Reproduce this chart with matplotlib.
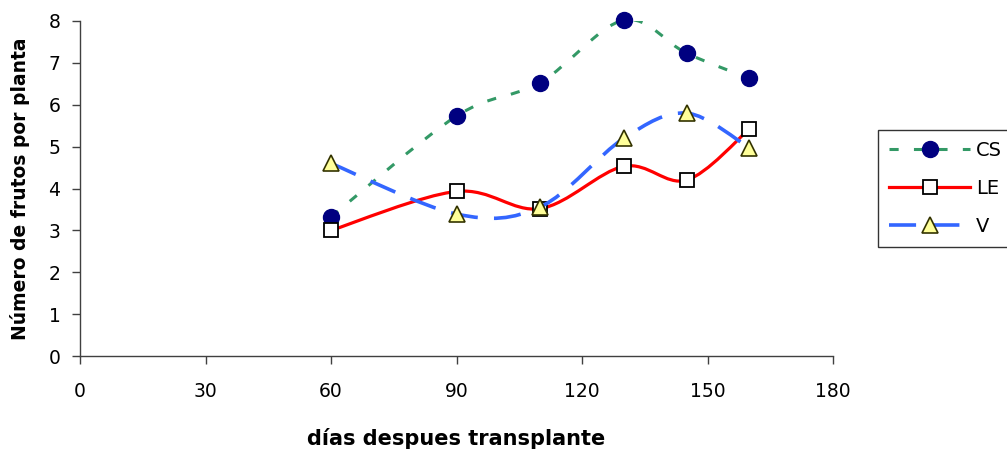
import numpy as np
import matplotlib
matplotlib.use("Agg")
import matplotlib.pyplot as plt
from matplotlib.path import Path
from matplotlib.patches import PathPatch
from matplotlib.lines import Line2D

# ---- data ----
dias = [60, 90, 110, 130, 145, 160]
cs = [3.32, 5.73, 6.53, 8.02, 7.23, 6.63]
le = [3.0, 3.93, 3.52, 4.53, 4.2, 5.42]
v = [4.6, 3.39, 3.56, 5.2, 5.8, 4.97]
series_names = ["CS", "LE", "V"]
x_ticks = [0, 30, 60, 90, 120, 150, 180]
y_ticks = [0, 1, 2, 3, 4, 5, 6, 7, 8]
xlabel = "días despues transplante"
ylabel = "Número de frutos por planta"

plt.rcParams['font.family'] = ['DejaVu Sans']

fig = plt.figure(figsize=(10.07, 4.50), dpi=100)
ax = fig.add_axes([80/1007, 1-356/450, (833-80)/1007, (356-21)/450])


def smooth_path(xs, ys):
    P = np.column_stack([xs, ys]).astype(float)
    n = len(P)
    verts = [P[0]]
    codes = [Path.MOVETO]
    for i in range(n - 1):
        p0 = P[i - 1] if i > 0 else P[i]
        p1 = P[i]
        p2 = P[i + 1]
        p3 = P[i + 2] if i + 2 < n else P[i + 1]
        c1 = p1 + (p2 - p0) / 6.0
        c2 = p2 - (p3 - p1) / 6.0
        verts += [c1, c2, p2]
        codes += [Path.CURVE4] * 3
    return Path(verts, codes)


styles = [
    dict(color="#339966", lw=2.2, ls=(0, (3.0, 5.0)), marker="o", ms=11.5,
         mfc="#000080", mec="#000080", mew=1.0),
    dict(color="#FF0000", lw=2.3, ls="-", marker="s", ms=10.0,
         mfc="white", mec="black", mew=1.3),
    dict(color="#3366FF", lw=2.6, ls=(0, (7.5, 4.5)), marker="^", ms=11.5,
         mfc="#FFFF99", mec="#333300", mew=1.2),
]
data = [cs, le, v]

handles = []
for k, (ys, st) in enumerate(zip(data, styles)):
    patch = PathPatch(smooth_path(dias, ys), fill=False, edgecolor=st["color"],
                      lw=st["lw"], linestyle=st["ls"], zorder=2 + 2 * k,
                      capstyle="butt", joinstyle="round")
    ax.add_patch(patch)
    ax.plot(dias, ys, linestyle="none", marker=st["marker"], ms=st["ms"],
            mfc=st["mfc"], mec=st["mec"], mew=st["mew"], zorder=3 + 2 * k,
            clip_on=False)
    handles.append(Line2D([], [], color=st["color"], lw=st["lw"], linestyle=st["ls"],
                          marker=st["marker"], ms=st["ms"], mfc=st["mfc"],
                          mec=st["mec"], mew=st["mew"]))

ax.set_xlim(0, 180)
ax.set_ylim(0, 8)
ax.set_xticks(x_ticks)
ax.set_yticks(y_ticks)
for s in ["top", "right"]:
    ax.spines[s].set_visible(False)
for s in ["left", "bottom"]:
    ax.spines[s].set_color("#404040")
    ax.spines[s].set_linewidth(1.0)
ax.tick_params(axis="x", direction="out", length=6, width=1, color="#404040",
               labelsize=13.5, pad=13)
ax.tick_params(axis="y", direction="out", length=6, width=1, color="#404040",
               labelsize=13.5, pad=8)

ax.set_xlabel(xlabel, fontsize=15, fontweight="bold", labelpad=19)
ax.set_ylabel(ylabel, fontsize=13.5, fontweight="bold", labelpad=13)

leg = fig.legend(handles, series_names, loc="upper left",
                 bbox_to_anchor=(878/1007, 1-130/450), bbox_transform=fig.transFigure,
                 fontsize=14, handlelength=4.2, handletextpad=0.3,
                 labelspacing=0.98, borderpad=0.55, fancybox=False, frameon=True,
                 borderaxespad=0)
leg.get_frame().set_edgecolor("black")
leg.get_frame().set_linewidth(1.0)

fig.savefig("out.png", dpi=100)
